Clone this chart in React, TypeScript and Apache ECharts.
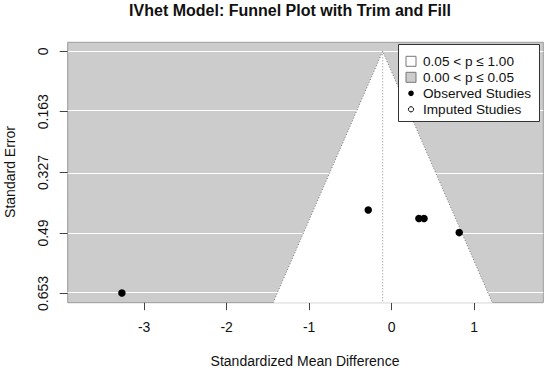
import React, { useEffect, useRef } from 'react';
import * as echarts from 'echarts';

// ---- data ----
const studyEffects = [-3.27, -0.284, 0.33, 0.392, 0.819];
const studySE = [0.652, 0.428, 0.451, 0.451, 0.489];
const imputedEffects: number[] = [];
const imputedSE: number[] = [];
const pooledEstimate = -0.109;
const zCrit = 1.96;
const xTicks = [-3, -2, -1, 0, 1];
const xTickLabels = ['-3', '-2', '-1', '0', '1'];
const yTicks = [0, 0.163, 0.327, 0.49, 0.653];
const yTickLabels = ['0', '0.163', '0.327', '0.49', '0.653'];
const xRange = [-3.927, 1.838];
const yRange = [-0.0243, 0.678];
const legendLabels = ['0.05 < p \u2264 1.00', '0.00 < p \u2264 0.05', 'Observed Studies', 'Imputed Studies'];
const titleText = 'IVhet Model: Funnel Plot with Trim and Fill';
const xTitle = 'Standardized Mean Difference';
const yTitle = 'Standard Error';

const FONT = '"Liberation Sans", Arial, Helvetica, sans-serif';
const GRAY = '#cccccc';
const TEXT = '#111';

export default function App() {
  const ref = useRef<HTMLDivElement>(null);
  useEffect(() => {
    document.body.style.margin = '0';
    if (!ref.current) return;
    const chart = echarts.init(ref.current, undefined, { renderer: 'svg' });
    const lx = 398.5, ly = 44.5, lw = 141, lh = 77;
    const rowY = [61.3, 77.3, 93.3, 109.3];
    const symX = 411;
    const txtX = 423;
    const Z = 100;
    chart.setOption({
      animation: false,
      backgroundColor: '#fff',
      grid: {
        left: 67.7, right: 6.7, top: 42.3, bottom: 72.3,
        show: true, backgroundColor: GRAY, borderColor: '#9a9a9a', borderWidth: 1,
      },
      xAxis: {
        type: 'value', min: xRange[0], max: xRange[1], position: 'bottom',
        axisLine: { show: false, onZero: false },
        splitLine: { show: false },
        axisTick: { show: true, length: 7.5, customValues: xTicks, lineStyle: { color: '#444' } },
        axisLabel: {
          show: true, customValues: xTicks, margin: 17,
          formatter: (v: number) => xTickLabels[xTicks.indexOf(v)] ?? String(v),
          fontFamily: FONT, fontSize: 14, color: TEXT,
        },
      },
      yAxis: {
        type: 'value', inverse: true, min: yRange[0], max: yRange[1], position: 'left',
        axisLine: { show: false, onZero: false },
        splitLine: { show: false },
        axisTick: { show: true, length: 8, customValues: yTicks, lineStyle: { color: '#444' } },
        axisLabel: {
          show: true, customValues: yTicks, margin: 18, rotate: 90,
          formatter: (v: number) => {
            const i = yTicks.findIndex((t) => Math.abs(t - v) < 1e-9);
            return i >= 0 ? yTickLabels[i] : String(v);
          },
          fontFamily: FONT, fontSize: 14, color: TEXT,
        },
      },
      series: [
        {
          type: 'custom',
          z: 1,
          data: [[pooledEstimate, 0]],
          renderItem: (_params: any, api: any) => {
            const seMax = yRange[1];
            const apex = api.coord([pooledEstimate, 0]);
            const l = api.coord([pooledEstimate - zCrit * seMax, seMax]);
            const r = api.coord([pooledEstimate + zCrit * seMax, seMax]);
            return {
              type: 'group',
              children: [
                { type: 'polygon', shape: { points: [apex, l, r] }, style: { fill: '#ffffff', stroke: null } },
                { type: 'polyline', shape: { points: [l, apex, r] }, style: { fill: null, stroke: '#777', lineWidth: 1, lineDash: [1, 2] } },
                { type: 'line', shape: { x1: apex[0], y1: apex[1], x2: apex[0], y2: l[1] }, style: { stroke: '#888', lineWidth: 1, lineDash: [1, 2] } },
              ],
            };
          },
          markLine: {
            silent: true, symbol: ['none', 'none'], label: { show: false },
            lineStyle: { color: '#ffffff', width: 1, type: 'solid' },
            data: yTicks.map((v) => ({ yAxis: v })),
            z: 0,
          },
        },
        {
          type: 'scatter', name: 'Observed Studies', z: 5,
          symbol: 'circle', symbolSize: 7.5,
          itemStyle: { color: '#000', opacity: 1 },
          data: studyEffects.map((x, i) => [x, studySE[i]]),
        },
        {
          type: 'scatter', name: 'Imputed Studies', z: 5,
          symbol: 'circle', symbolSize: 7.5,
          itemStyle: { color: '#fff', borderColor: '#000', borderWidth: 1 },
          data: imputedEffects.map((x, i) => [x, imputedSE[i]]),
        },
      ],
      graphic: [
        { type: 'text', x: 290, y: 10, style: { text: titleText, font: `bold 16px ${FONT}`, fill: TEXT, textAlign: 'center', textVerticalAlign: 'middle' } },
        { type: 'text', x: 305, y: 361, style: { text: xTitle, font: `14px ${FONT}`, fill: TEXT, textAlign: 'center', textVerticalAlign: 'middle' } },
        { type: 'text', x: 10, y: 172, rotation: Math.PI / 2, style: { text: yTitle, font: `14px ${FONT}`, fill: TEXT, textAlign: 'center', textVerticalAlign: 'middle' } },
        { type: 'rect', z: Z, shape: { x: lx, y: ly, width: lw, height: lh }, style: { fill: '#fff', stroke: '#333', lineWidth: 1 } },
        { type: 'rect', z: Z + 1, shape: { x: symX - 5, y: rowY[0] - 5, width: 10, height: 10 }, style: { fill: '#fff', stroke: '#777', lineWidth: 1 } },
        { type: 'rect', z: Z + 1, shape: { x: symX - 5, y: rowY[1] - 5, width: 10, height: 10 }, style: { fill: GRAY, stroke: '#777', lineWidth: 1 } },
        { type: 'circle', z: Z + 1, shape: { cx: symX, cy: rowY[2], r: 2.8 }, style: { fill: '#000' } },
        { type: 'circle', z: Z + 1, shape: { cx: symX, cy: rowY[3], r: 2.6 }, style: { fill: '#fff', stroke: '#000', lineWidth: 1 } },
        ...legendLabels.map((t, i) => ({
          type: 'text', z: Z + 1, x: txtX, y: rowY[i],
          style: { text: t, font: `13.6px ${FONT}`, fill: TEXT, textAlign: 'left', textVerticalAlign: 'middle' },
        })),
      ],
    });
    return () => chart.dispose();
  }, []);
  return <div ref={ref} style={{ width: 550, height: 375 }} />;
}
